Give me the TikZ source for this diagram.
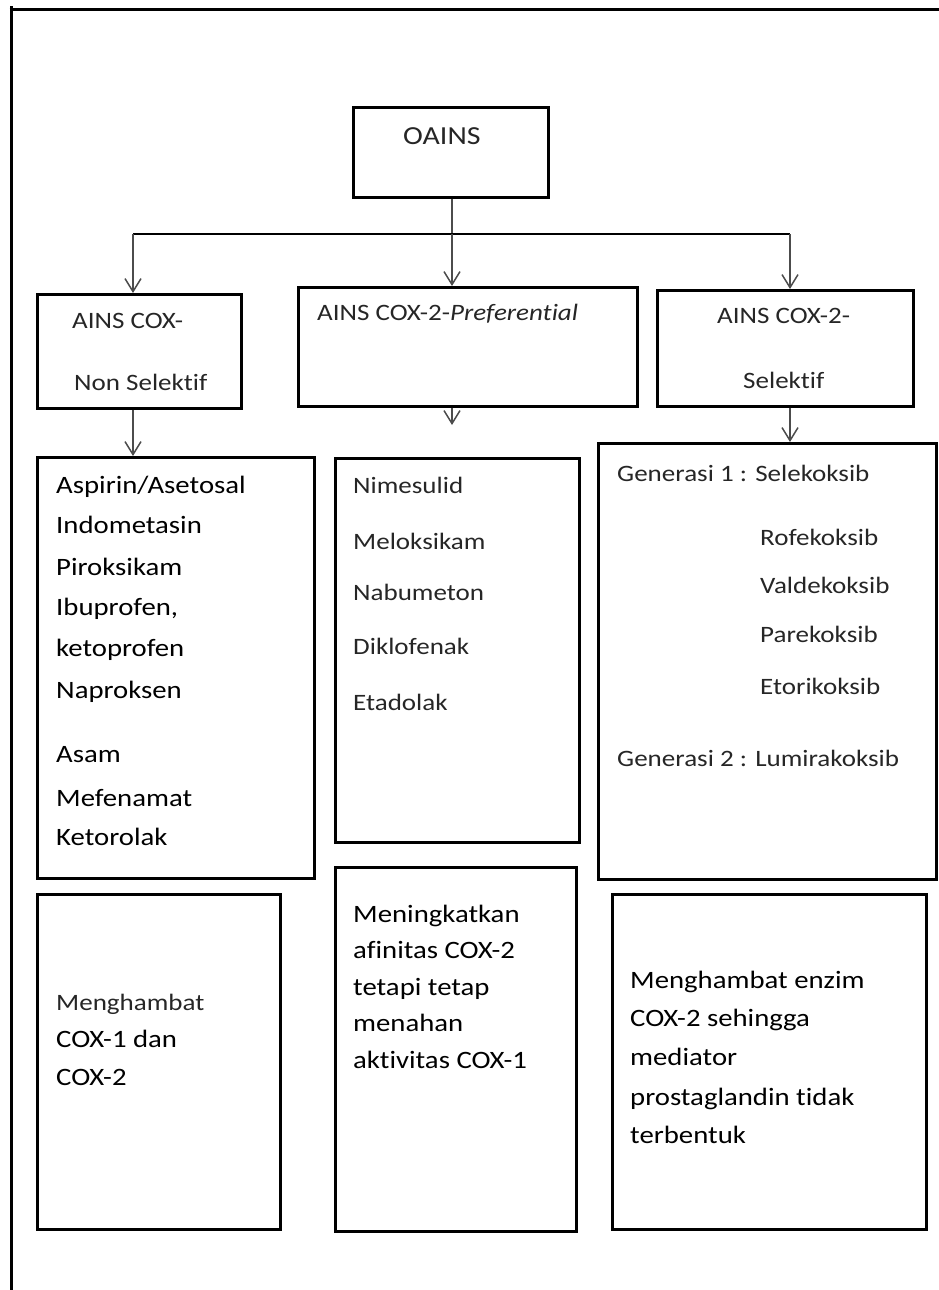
\documentclass[tikz,border=0pt]{standalone}
\usepackage{fontspec}
\setmainfont{Carlito}[FakeStretch=1.15, Ligatures=NoCommon]
\usetikzlibrary{arrows.meta}
\begin{document}
\begin{tikzpicture}[x=1pt,y=-1pt,
  box/.style={draw=black, line width=2.6pt, inner sep=0pt, anchor=north west},
  txt/.style={inner sep=0pt, anchor=west, text height=0.64em, text depth=0pt, text=black!85, yshift=-5.5pt},
  fsa/.style={font=\fontsize{23.5}{28}\selectfont},
  fsb/.style={font=\fontsize{25}{30}\selectfont},
  fsc/.style={font=\fontsize{26}{31}\selectfont},
  conn/.style={line width=1.8pt, draw=black!70},
  arr/.style={conn, -{Straight Barb[length=13pt,width=16pt,line width=1.5pt]}},
  bar/.style={line width=2.6pt, draw=black},
  frame/.style={line width=3pt, draw=black}]
\useasboundingbox (0,0) rectangle (939,1290);
% frame
\coordinate (fbl) at (11,1290);
\coordinate (ftl) at (11,6);
\coordinate (ftc) at (9.5,10);
\coordinate (ftr) at (939,10);
\draw[frame] (fbl) -- (ftl);
\draw[frame] (ftc) -- (ftr);
% boxes
\node[box, minimum width=195pt, minimum height=90pt] (oains) at (352,106) {};
\node[box, minimum width=204pt, minimum height=114pt] (b1) at (36,293) {};
\node[box, minimum width=339pt, minimum height=119pt] (b2) at (297,286) {};
\node[box, minimum width=256pt, minimum height=116pt] (b3) at (656,289) {};
\node[box, minimum width=277pt, minimum height=421pt] (b4) at (36,456) {};
\node[box, minimum width=244pt, minimum height=384pt] (b5) at (334,457) {};
\node[box, minimum width=338pt, minimum height=436pt] (b6) at (597,442) {};
\node[box, minimum width=243pt, minimum height=335pt] (b7) at (36,893) {};
\node[box, minimum width=241pt, minimum height=364pt] (b8) at (334,866) {};
\node[box, minimum width=314pt, minimum height=335pt] (b9) at (611,893) {};
% texts
\node[txt, fsc] (t0) at (403,136) {OAINS};
\node[txt, fsa] (t11) at (72,320) {AINS COX-};
\node[txt, fsa] (t12) at (74,382) {Non Selektif};
\node[txt, fsa] (t21) at (317,312) {AINS COX-2-\textit{Preferential}};
\node[txt, fsa] (t31) at (717,315) {AINS COX-2-};
\node[txt, fsa] (t32) at (743,380) {Selektif};
% box 4
\node[txt, fsb, text=black] (t41) at (56,485) {Aspirin/Asetosal};
\node[txt, fsb, text=black] (t42) at (56,525) {Indometasin};
\node[txt, fsb, text=black] (t43) at (56,567) {Piroksikam};
\node[txt, fsb, text=black] (t44) at (56,607) {Ibuprofen,};
\node[txt, fsb, text=black] (t45) at (56,648) {ketoprofen};
\node[txt, fsb, text=black] (t46) at (56,690) {Naproksen};
\node[txt, fsb, text=black] (t47) at (56,754) {Asam};
\node[txt, fsb, text=black] (t48) at (56,798) {Mefenamat};
\node[txt, fsb, text=black] (t49) at (56,837) {Ketorolak};
% box 5
\node[txt, fsa] (t51) at (353,485) {Nimesulid};
\node[txt, fsa] (t52) at (353,541) {Meloksikam};
\node[txt, fsa] (t53) at (353,592) {Nabumeton};
\node[txt, fsa] (t54) at (353,646) {Diklofenak};
\node[txt, fsa] (t55) at (353,702) {Etadolak};
% box 6
\node[txt, fsa] (t61) at (617,473) {Generasi 1 : Selekoksib};
\node[txt, fsa] (t62) at (760,537) {Rofekoksib};
\node[txt, fsa] (t63) at (760,585) {Valdekoksib};
\node[txt, fsa] (t64) at (760,634) {Parekoksib};
\node[txt, fsa] (t65) at (760,686) {Etorikoksib};
\node[txt, fsa] (t66) at (617,758) {Generasi 2 : Lumirakoksib};
% box 7
\node[txt, fsa] (t71) at (56,1002) {Menghambat};
\node[txt, fsb, text=black] (t72) at (56,1039) {COX-1 dan};
\node[txt, fsb, text=black] (t73) at (56,1077) {COX-2};
% box 8
\node[txt, fsb, text=black] (t81) at (353,914) {Meningkatkan};
\node[txt, fsb, text=black] (t82) at (353,950) {afinitas COX-2};
\node[txt, fsb, text=black] (t83) at (353,987) {tetapi tetap};
\node[txt, fsb, text=black] (t84) at (353,1023) {menahan};
\node[txt, fsb, text=black] (t85) at (353,1060) {aktivitas COX-1};
% box 9
\node[txt, fsb, text=black] (t91) at (630,980) {Menghambat enzim};
\node[txt, fsb, text=black] (t92) at (630,1018) {COX-2 sehingga};
\node[txt, fsb, text=black] (t93) at (630,1057) {mediator};
\node[txt, fsb, text=black] (t94) at (630,1097) {prostaglandin tidak};
\node[txt, fsb, text=black] (t95) at (630,1135) {terbentuk};
% connectors
\coordinate (hl) at (133,234);
\coordinate (hm) at (452,234);
\coordinate (hr) at (790,234);
\coordinate (e2) at (452,425);
\draw[conn] (hm |- oains.south) -- (hm);
\draw[bar] (hl) -- (hr);
\draw[arr] (hl) -- (hl |- b1.north);
\draw[arr] (hm) -- (hm |- b2.north);
\draw[arr] (hr) -- (hr |- b3.north);
\draw[arr] (hl |- b1.south) -- (hl |- b4.north);
\draw[arr] (e2 |- b2.south) -- (e2);
\draw[arr] (hr |- b3.south) -- (hr |- b6.north);
\end{tikzpicture}
\end{document}
